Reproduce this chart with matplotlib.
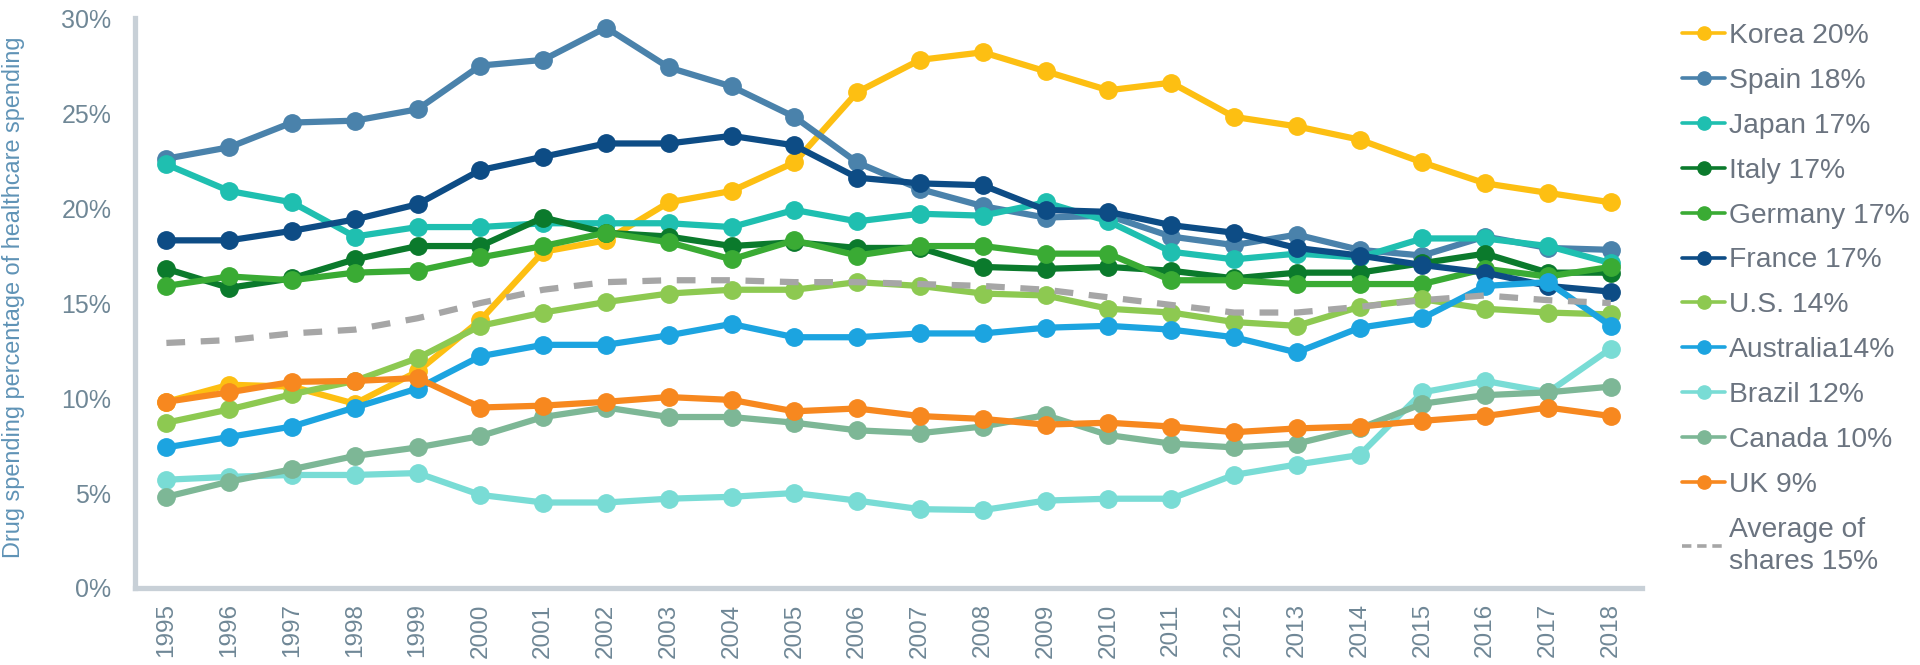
import matplotlib
matplotlib.use('Agg')
from matplotlib import pyplot as plt
from matplotlib.ticker import PercentFormatter

plt.rcParams['font.family'] = ['Liberation Sans', 'DejaVu Sans']

years = list(range(1995, 2019))

korea = [9.8, 10.7, 10.6, 9.7, 11.4, 14.1, 17.7, 18.3, 20.3, 20.9, 22.4, 26.1,
         27.8, 28.2, 27.2, 26.2, 26.6, 24.8, 24.3, 23.6, 22.4, 21.3, 20.8, 20.3]
spain = [22.6, 23.2, 24.5, 24.6, 25.2, 27.5, 27.8, 29.5, 27.4, 26.4, 24.8, 22.4,
         21.0, 20.1, 19.5, 19.6, 18.5, 18.05, 18.6, 17.8, 17.5, 18.5, 17.9, 17.8]
japan = [22.3, 20.9, 20.3, 18.5, 19.0, 19.0, 19.2, 19.2, 19.2, 19.0, 19.9, 19.3,
         19.7, 19.6, 20.3, 19.3, 17.7, 17.3, 17.6, 17.4, 18.4, 18.4, 18.0, 17.1]
italy = [16.8, 15.8, 16.3, 17.3, 18.0, 18.0, 19.5, 18.7, 18.5, 18.0, 18.2, 17.9,
         17.9, 16.9, 16.8, 16.9, 16.7, 16.3, 16.6, 16.6, 17.1, 17.6, 16.6, 16.6]
germany = [15.9, 16.4, 16.2, 16.6, 16.7, 17.4, 18.0, 18.7, 18.2, 17.3, 18.3, 17.5,
           18.0, 18.0, 17.6, 17.6, 16.2, 16.2, 16.0, 16.0, 16.0, 16.8, 16.4, 16.9]
france = [18.3, 18.3, 18.8, 19.4, 20.2, 22.0, 22.7, 23.4, 23.4, 23.8, 23.3, 21.6,
          21.3, 21.2, 19.9, 19.8, 19.1, 18.7, 17.9, 17.5, 17.0, 16.6, 15.9, 15.6]
us = [8.7, 9.4, 10.2, 10.9, 12.1, 13.8, 14.5, 15.05, 15.5, 15.7, 15.7, 16.1,
      15.9, 15.5, 15.4, 14.7, 14.5, 14.0, 13.8, 14.8, 15.2, 14.7, 14.5, 14.4]
australia = [7.4, 7.95, 8.5, 9.5, 10.5, 12.2, 12.8, 12.8, 13.3, 13.9, 13.2, 13.2,
             13.4, 13.4, 13.7, 13.8, 13.6, 13.2, 12.4, 13.7, 14.2, 15.9, 16.1, 13.8]
brazil = [5.7, 5.85, 5.95, 5.95, 6.05, 4.9, 4.5, 4.5, 4.7, 4.8, 5.0, 4.6,
          4.15, 4.1, 4.6, 4.7, 4.7, 5.95, 6.5, 7.0, 10.3, 10.9, 10.3, 12.6]
canada = [4.8, 5.6, 6.25, 6.95, 7.4, 8.0, 9.0, 9.5, 9.0, 9.0, 8.7, 8.3,
          8.15, 8.5, 9.1, 8.05, 7.6, 7.4, 7.6, 8.4, 9.7, 10.15, 10.3, 10.6]
uk = [9.8, 10.3, 10.85, 10.9, 11.05, 9.5, 9.6, 9.8, 10.05, 9.9, 9.3, 9.45,
      9.05, 8.9, 8.6, 8.7, 8.5, 8.2, 8.4, 8.5, 8.8, 9.05, 9.5, 9.05]
average = [12.9, 13.05, 13.4, 13.6, 14.2, 15.0, 15.7, 16.1, 16.2, 16.2, 16.1, 16.1,
           16.0, 15.9, 15.7, 15.3, 14.9, 14.5, 14.5, 14.8, 15.15, 15.4, 15.15, 15.0]

series = [
    ("Korea 20%", korea, '#fdbf12'),
    ("Spain 18%", spain, '#4a82ab'),
    ("Japan 17%", japan, '#1fbfb0'),
    ("Italy 17%", italy, '#0b7a2c'),
    ("Germany 17%", germany, '#3aab34'),
    ("France 17%", france, '#0d4c85'),
    ("U.S. 14%", us, '#8dc951'),
    ("Australia14%", australia, '#1ca4e0'),
    ("Brazil 12%", brazil, '#79dcd5'),
    ("Canada 10%", canada, '#7db796'),
    ("UK 9%", uk, '#f7881f'),
]

fig = plt.figure(figsize=(19.2, 6.65), dpi=100)
ax = fig.add_axes([0.0703, 0.1158, 0.785, 0.857])

for label, vals, col in series:
    ax.plot(years, vals, color=col, lw=4.5, marker='o', markersize=12.5,
            label=label, solid_capstyle='round')
ax.plot(years, average, color='#a6a6a6', lw=4.5, dashes=(3, 2.5),
        label="Average of\nshares 15%")

ax.set_xlim(1994.5, 2018.5)
ax.set_ylim(0, 30)
ax.set_yticks([0, 5, 10, 15, 20, 25, 30])
ax.yaxis.set_major_formatter(PercentFormatter(decimals=0))
ax.set_xticks(years)
ax.set_xticklabels([str(y) for y in years], rotation=90)

for s in ['top', 'right']:
    ax.spines[s].set_visible(False)
for s in ['left', 'bottom']:
    ax.spines[s].set_color('#c8d0d7')
    ax.spines[s].set_linewidth(3.8)

ax.tick_params(axis='y', length=0, pad=17, labelsize=18, labelcolor='#6f8796')
ax.tick_params(axis='x', length=0, pad=11, labelsize=17.5, labelcolor='#6f8796')

ax.set_ylabel("Drug spending percentage of healthcare spending",
              fontsize=16.9, color='#5f93b6')
ax.yaxis.set_label_coords(-0.073, 0.51)

leg = fig.legend(loc='upper left', bbox_to_anchor=(1682 / 1920, 1 - 23 / 665),
                 frameon=False, fontsize=20.3, handlelength=1.53,
                 handletextpad=0.12, labelspacing=0.67, borderpad=0.0,
                 borderaxespad=0.0)
for t in leg.get_texts():
    t.set_color('#6b7480')
leg.get_texts()[-1].set_linespacing(1.3)
for h in leg.legend_handles:
    h.set_linewidth(2.6)
    h.set_markersize(9.5)
leg.legend_handles[-1].set_dashes((2.6, 1.6))

plt.savefig('out.png', dpi=100)
